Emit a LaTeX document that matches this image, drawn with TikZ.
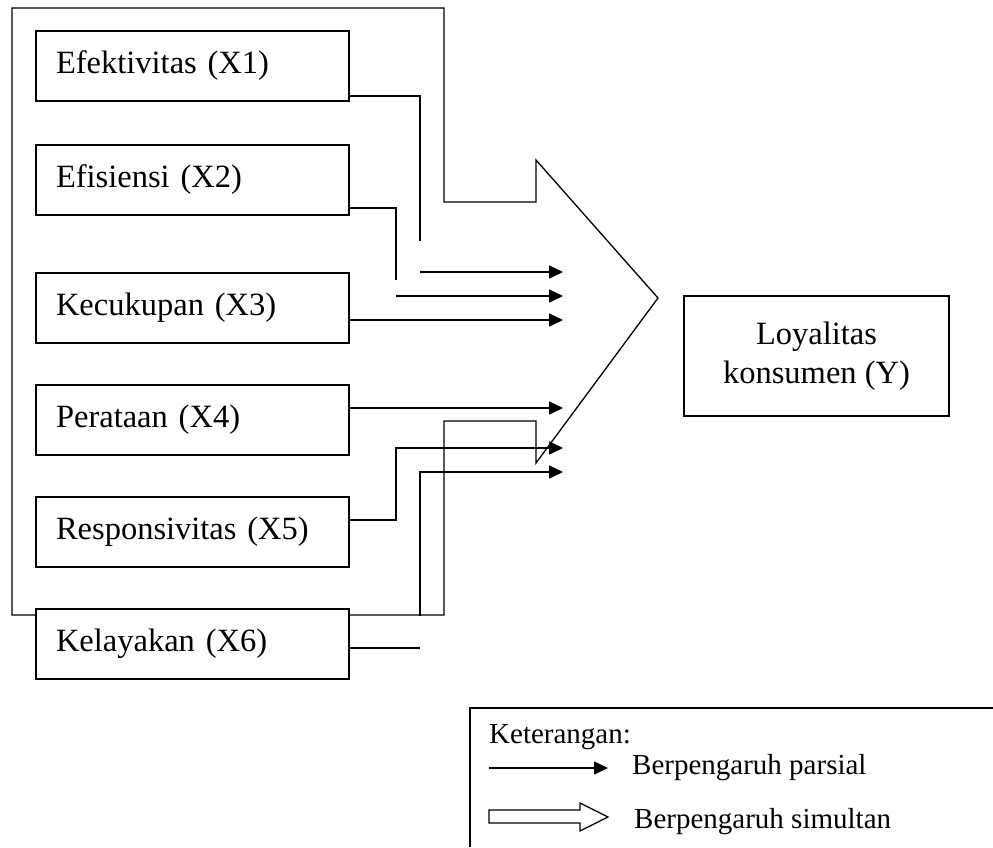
\documentclass[tikz,border=0pt]{standalone}
\usepackage{fontspec}
\setmainfont{Liberation Serif}
\usetikzlibrary{arrows.meta}

\begin{document}
\begin{tikzpicture}[x=1pt,y=-1pt]
\tikzstyle{every node}=[font=\fontsize{32.5}{39}\selectfont]
\tikzstyle{var}=[draw,fill=white,line width=1.3pt,minimum width=313pt,minimum height=70pt,text width=273pt,inner xsep=20pt,align=left]
\tikzstyle{partial}=[line width=1.6pt,-{Triangle[length=14pt,width=13pt]}]
\tikzstyle{link}=[line width=1.6pt]
\tikzstyle{legend}=[font=\fontsize{29}{33}\selectfont,inner sep=0pt]
\useasboundingbox (0,0) rectangle (993,847);
\clip (0,0) rectangle (993,847);

% simultaneous arrow
\draw[line width=1.3pt] (12,8) -- (444,8) -- (444,202) -- (536,202) -- (536,160) -- (658,298)
  -- (536,463) -- (536,421) -- (444,421) -- (444,615) -- (12,615) -- cycle;

\node[var] (efektivitas) at (192.5,66) {Efektivitas (X1)};
\node[var] (efisiensi) at (192.5,180) {Efisiensi (X2)};
\node[var] (kecukupan) at (192.5,308) {Kecukupan (X3)};
\node[var] (perataan) at (192.5,420) {Perataan (X4)};
\node[var] (responsivitas) at (192.5,532) {Responsivitas (X5)};
\node[var] (kelayakan) at (192.5,644) {Kelayakan (X6)};
\node[draw,line width=1.3pt,minimum width=265pt,minimum height=120pt,align=center] (loyalitas) at (816.5,356) {Loyalitas\\konsumen (Y)};

\coordinate (t1) at (563,272);
\coordinate (t2) at (563,296);
\coordinate (t3) at (563,320);
\coordinate (t4) at (563,408);
\coordinate (t5) at (563,448);
\coordinate (t6) at (563,472);

\draw[link] ([yshift=-30pt]efektivitas.east) -| (420,241);
\draw[partial] (420,272) -- (t1);
\draw[link] ([yshift=-28pt]efisiensi.east) -| (396,280);
\draw[partial] (396,296) -- (t2);
\draw[partial] ([yshift=-12pt]kecukupan.east) -- (t3);
\draw[partial] ([yshift=12pt]perataan.east) -- (t4);
\draw[partial] ([yshift=12pt]responsivitas.east) -- (396,520) -- (396,448) -- (t5);
\draw[link] ([yshift=-4pt]kelayakan.east) -- (420,648);
\draw[partial] (420,616) -- (420,472) -- (t6);

% legend
\draw[line width=1.3pt] (470,847) -- (470,708) -- (993,708);
\node[legend,anchor=base west] (ket) at (489,743) {Keterangan:};
\coordinate (p0) at (489,768);
\coordinate (p1) at (608,768);
\draw[partial] (p0) -- (p1);
\node[legend,anchor=west] (parsial) at (632,768) {Berpengaruh parsial};
\draw[line width=1.3pt] (489,810) -- (580,810) -- (580,803) -- (608,817) -- (580,831) -- (580,823) -- (489,823) -- cycle;
\node[legend,anchor=west] (simultan) at (634,822) {Berpengaruh simultan};
\end{tikzpicture}
\end{document}
